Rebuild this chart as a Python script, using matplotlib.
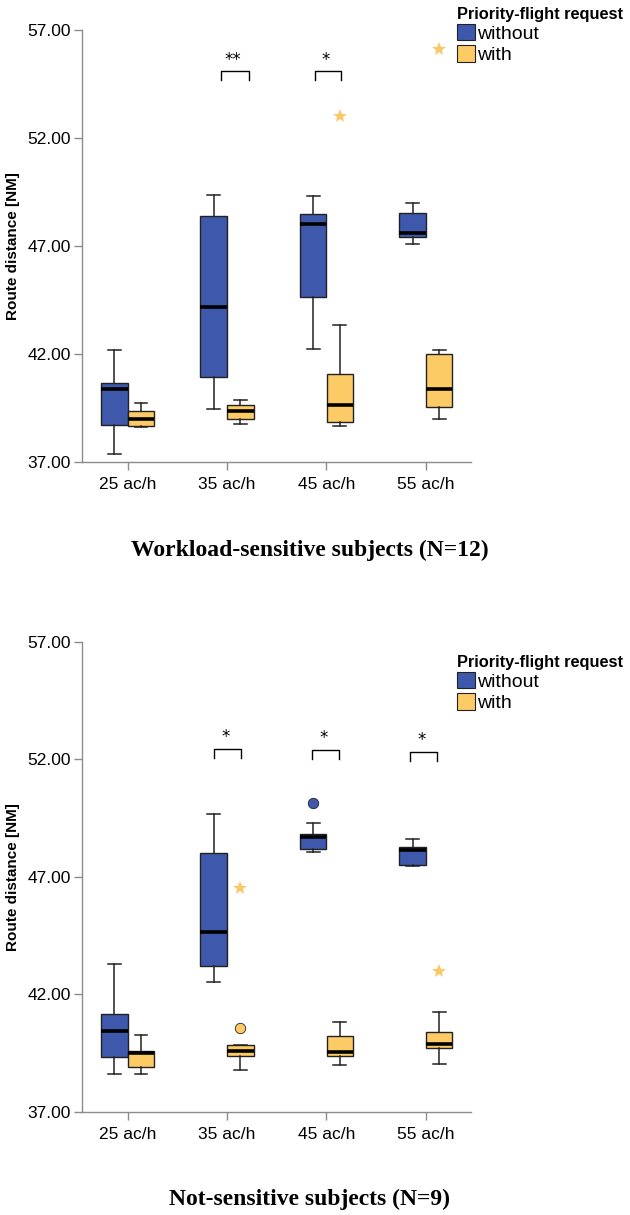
import matplotlib.pyplot as plt
from matplotlib.patches import Patch

categories = ['25 ac/h', '35 ac/h', '45 ac/h', '55 ac/h']
groups = ['without', 'with']
yticks = [37, 42, 47, 52, 57]

# Workload-sensitive subjects (N=12): whislo, q1, med, q3, whishi per category
ws_without = [
    [37.38, 38.70, 40.38, 40.65, 42.18],
    [39.45, 40.92, 44.17, 48.37, 49.35],
    [42.23, 44.62, 48.02, 48.48, 49.30],
    [47.10, 47.40, 47.62, 48.55, 49.00],
]
ws_with = [
    [38.60, 38.65, 38.97, 39.38, 39.74],
    [38.74, 39.00, 39.38, 39.63, 39.88],
    [38.68, 38.86, 39.63, 41.08, 43.32],
    [39.00, 39.55, 40.40, 42.00, 42.18],
]
ws_circles_without = [[], [], [], []]
ws_circles_with = [[], [], [], []]
ws_stars_without = [[], [], [], []]
ws_stars_with = [[], [], [53.0], [56.13]]
ws_sig = [(1, '**', -0.06, 0.22, 55.09), (2, '*', -0.12, 0.15, 55.09)]

# Not-sensitive subjects (N=9)
ns_without = [
    [38.60, 39.34, 40.45, 41.18, 43.30],
    [42.52, 43.23, 44.64, 48.03, 49.69],
    [48.06, 48.20, 48.72, 48.85, 49.28],
    [47.45, 47.49, 48.13, 48.28, 48.61],
]
ns_with = [
    [38.62, 38.91, 39.51, 39.60, 40.26],
    [38.78, 39.39, 39.60, 39.85, 39.85],
    [38.98, 39.37, 39.57, 40.25, 40.81],
    [39.03, 39.71, 39.91, 40.39, 41.27],
]
ns_circles_without = [[], [], [50.13], []]
ns_circles_with = [[], [40.59], [], []]
ns_stars_without = [[], [], [], []]
ns_stars_with = [[], [46.54], [], [43.0]]
ns_sig = [(1, '*', -0.13, 0.14, 52.45), (2, '*', -0.146, 0.126, 52.42),
          (3, '*', -0.16, 0.11, 52.31)]

BLUE = '#3e58ab'
YELLOW = '#fdcb66'
STAR = '#fac865'
EDGE = '#222222'
AXC = '#8c8c8c'
plt.rcParams['font.family'] = ['Liberation Sans', 'DejaVu Sans']


def stats_list(rows, circles):
    out = []
    for r, c in zip(rows, circles):
        out.append({'whislo': r[0], 'q1': r[1], 'med': r[2], 'q3': r[3],
                    'whishi': r[4], 'fliers': c})
    return out


def draw_panel(ax, without, with_, circ_wo, circ_w, star_wo, star_w, sig, tick_h):
    off = 0.134
    width = 0.267
    for rows, circ, stars, col, sgn in [(without, circ_wo, star_wo, BLUE, -1),
                                        (with_, circ_w, star_w, YELLOW, 1)]:
        pos = [i + sgn * off for i in range(len(categories))]
        ax.bxp(stats_list(rows, circ), positions=pos, widths=width,
               capwidths=width * 0.48, patch_artist=True, manage_ticks=False,
               boxprops=dict(facecolor=col, edgecolor=EDGE, linewidth=1.0),
               medianprops=dict(color='black', linewidth=2.6),
               whiskerprops=dict(color=EDGE, linewidth=1.1),
               capprops=dict(color=EDGE, linewidth=1.1),
               flierprops=dict(marker='o', markerfacecolor=col, markeredgecolor=EDGE,
                               markeredgewidth=0.6, markersize=7.5))
        for p, s in zip(pos, stars):
            if s:
                ax.plot([p] * len(s), s, linestyle='none', marker='*',
                        color=STAR, markersize=10, markeredgewidth=0)
    for idx, label, x0, x1, y in sig:
        ax.plot([idx + x0, idx + x0, idx + x1, idx + x1],
                [y - tick_h, y, y, y - tick_h], color='black', linewidth=1.0)
        ax.text(idx + (x0 + x1) / 2 - 0.02, y + 0.12, label, ha='center', va='bottom',
                fontsize=12, family='DejaVu Sans')

    ax.set_xlim(-0.46, 3.45)
    ax.set_ylim(37, 57)
    ax.set_xticks(range(len(categories)))
    ax.set_xticklabels(categories)
    ax.set_yticks(yticks)
    ax.set_yticklabels([f'{v:.2f}' for v in yticks])
    for side in ['top', 'right']:
        ax.spines[side].set_visible(False)
    for side in ['left', 'bottom']:
        ax.spines[side].set_color(AXC)
        ax.spines[side].set_linewidth(1.0)
    ax.tick_params(axis='both', colors=AXC, labelcolor='black', length=6,
                   width=1.0, labelsize=12.5, pad=2)
    ax.tick_params(axis='x', pad=5)
    ax.set_ylabel('Route distance [NM]', fontsize=11, fontweight='bold')
    ax.yaxis.set_label_coords(-0.16, 0.5)


fig = plt.figure(figsize=(6.3, 12.15), dpi=100)
ax1 = fig.add_axes([0.130, 0.6198, 0.617, 0.3555])
ax2 = fig.add_axes([0.130, 0.0848, 0.617, 0.3868])

draw_panel(ax1, ws_without, ws_with, ws_circles_without, ws_circles_with,
           ws_stars_without, ws_stars_with, ws_sig, 0.42)
draw_panel(ax2, ns_without, ns_with, ns_circles_without, ns_circles_with,
           ns_stars_without, ns_stars_with, ns_sig, 0.38)

handles = [Patch(facecolor=BLUE, edgecolor=EDGE, linewidth=0.8),
           Patch(facecolor=YELLOW, edgecolor=EDGE, linewidth=0.8)]
for ytop in [1 - 7 / 1215, 1 - 655 / 1215]:
    leg = fig.legend(handles, groups, loc='upper left', bbox_to_anchor=(457 / 630, ytop),
                     frameon=False, title='Priority-flight request', fontsize=14,
                     title_fontproperties={'size': 11.8, 'weight': 'bold'},
                     handlelength=0.9, handleheight=0.9, handletextpad=0.12,
                     labelspacing=0.12, borderpad=0, borderaxespad=0)
    leg._legend_box.align = 'left'

fig.text(0.491, 1 - 550 / 1215, 'Workload-sensitive subjects (N=12)', ha='center',
         va='center', fontsize=17, fontweight='bold', family='Liberation Serif')
fig.text(0.491, 1 - 1199 / 1215, 'Not-sensitive subjects (N=9)', ha='center',
         va='center', fontsize=17, fontweight='bold', family='Liberation Serif')

fig.savefig('out.png', dpi=100)
